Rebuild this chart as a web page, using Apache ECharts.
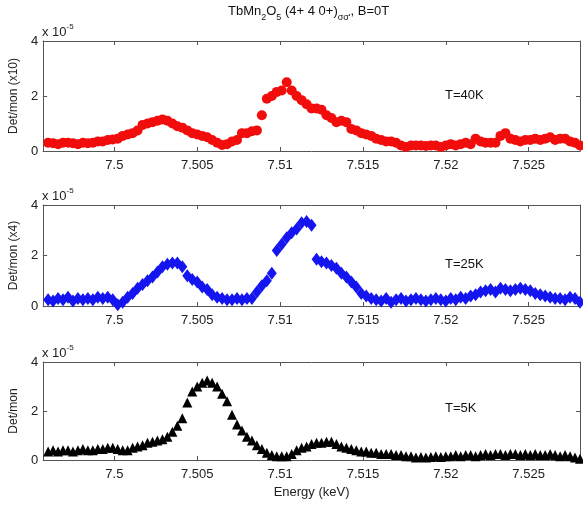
<!DOCTYPE html>
<html>
<head>
<meta charset="utf-8">
<script src="https://cdn.jsdelivr.net/npm/echarts@6/dist/echarts.min.js"></script>
<style>
html, body { margin: 0; background: #fff; }
#container { width: 583px; height: 508px; }
</style>
</head>
<body>
<div id="container"></div>
<script>
let chart = echarts.init(document.getElementById('container'));

// energy scan (keV)
var energy = [
    7.4960, 7.4963, 7.4966, 7.4969, 7.4972, 7.4975, 7.4978, 7.4981, 7.4984, 7.4987,
    7.4990, 7.4993, 7.4996, 7.4999, 7.5002, 7.5005, 7.5008, 7.5011, 7.5014, 7.5017,
    7.5020, 7.5023, 7.5026, 7.5029, 7.5032, 7.5035, 7.5038, 7.5041, 7.5044, 7.5047,
    7.5050, 7.5053, 7.5056, 7.5059, 7.5062, 7.5065, 7.5068, 7.5071, 7.5074, 7.5077,
    7.5080, 7.5083, 7.5086, 7.5089, 7.5092, 7.5095, 7.5098, 7.5101, 7.5104, 7.5107,
    7.5110, 7.5113, 7.5116, 7.5119, 7.5122, 7.5125, 7.5128, 7.5131, 7.5134, 7.5137,
    7.5140, 7.5143, 7.5146, 7.5149, 7.5152, 7.5155, 7.5158, 7.5161, 7.5164, 7.5167,
    7.5170, 7.5173, 7.5176, 7.5179, 7.5182, 7.5185, 7.5188, 7.5191, 7.5194, 7.5197,
    7.5200, 7.5203, 7.5206, 7.5209, 7.5212, 7.5215, 7.5218, 7.5221, 7.5224, 7.5227,
    7.5230, 7.5233, 7.5236, 7.5239, 7.5242, 7.5245, 7.5248, 7.5251, 7.5254, 7.5257,
    7.5260, 7.5263, 7.5266, 7.5269, 7.5272, 7.5275, 7.5278, 7.5281
];

// Det/mon in units of 1e-5 (already scaled x10 / x4 as plotted)
var t40K = [
    0.3, 0.28, 0.25, 0.3, 0.3, 0.28, 0.25, 0.3, 0.28, 0.3,
    0.35, 0.35, 0.4, 0.42, 0.45, 0.55, 0.6, 0.65, 0.75, 0.95,
    1.0, 1.05, 1.1, 1.15, 1.1, 1.0, 0.9, 0.85, 0.75, 0.65,
    0.6, 0.55, 0.5, 0.4, 0.3, 0.22, 0.25, 0.35, 0.4, 0.65,
    0.65, 0.72, 0.75, 1.3, 1.9, 2.0, 2.15, 2.2, 2.5, 2.2,
    2.0, 1.85, 1.7, 1.55, 1.55, 1.5, 1.3, 1.2, 1.05, 1.1,
    1.05, 0.8, 0.75, 0.65, 0.6, 0.55, 0.45, 0.4, 0.35, 0.35,
    0.3, 0.2, 0.15, 0.2, 0.2, 0.2, 0.18, 0.2, 0.2, 0.15,
    0.2, 0.25, 0.2, 0.25, 0.3, 0.25, 0.45, 0.35, 0.3, 0.3,
    0.3, 0.55, 0.65, 0.45, 0.4, 0.35, 0.4, 0.4, 0.45, 0.4,
    0.45, 0.5, 0.4, 0.45, 0.45, 0.35, 0.3, 0.2
];
var t25K = [
    0.25, 0.2, 0.3, 0.25, 0.35, 0.2, 0.3, 0.25, 0.3, 0.25,
    0.35, 0.3, 0.35, 0.25, 0.05, 0.15, 0.35, 0.5, 0.7, 0.85,
    1.0, 1.15, 1.35, 1.55, 1.65, 1.7, 1.7, 1.55, 1.2, 1.05,
    0.95, 0.75, 0.65, 0.45, 0.35, 0.3, 0.25, 0.25, 0.3, 0.25,
    0.3, 0.3, 0.55, 0.8, 1.0, 1.3, 2.2, 2.45, 2.7, 2.9,
    3.05, 3.3, 3.35, 3.2, 1.85, 1.75, 1.7, 1.6, 1.5, 1.3,
    1.15, 0.95, 0.75, 0.5, 0.4, 0.3, 0.25, 0.2, 0.3, 0.15,
    0.25, 0.3, 0.2, 0.25, 0.3, 0.25, 0.2, 0.25, 0.3, 0.25,
    0.2, 0.3, 0.25, 0.35, 0.3, 0.4, 0.45, 0.55, 0.6, 0.65,
    0.55, 0.7, 0.65, 0.6, 0.65, 0.7, 0.65, 0.6, 0.5, 0.45,
    0.4, 0.35, 0.3, 0.3, 0.25, 0.35, 0.3, 0.15
];
var t5K = [
    0.35, 0.4, 0.35, 0.4, 0.4, 0.35, 0.4, 0.45, 0.4, 0.4,
    0.45, 0.45, 0.5, 0.5, 0.45, 0.4, 0.4, 0.5, 0.55, 0.6,
    0.7, 0.75, 0.8, 0.85, 0.95, 1.15, 1.4, 1.7, 2.35, 2.8,
    3.0, 3.15, 3.25, 3.15, 3.0, 2.7, 2.4, 1.85, 1.45, 1.2,
    0.95, 0.8, 0.6, 0.45, 0.3, 0.2, 0.15, 0.15, 0.15, 0.25,
    0.4, 0.5, 0.55, 0.65, 0.7, 0.7, 0.75, 0.75, 0.65, 0.55,
    0.5, 0.45, 0.4, 0.35, 0.35, 0.3, 0.3, 0.25, 0.25, 0.25,
    0.2, 0.2, 0.15, 0.15, 0.1, 0.12, 0.1, 0.12, 0.15, 0.12,
    0.15, 0.15, 0.2, 0.15, 0.2, 0.2, 0.15, 0.2, 0.25, 0.2,
    0.25, 0.25, 0.2, 0.25, 0.25, 0.2, 0.25, 0.2, 0.25, 0.2,
    0.2, 0.25, 0.2, 0.15, 0.2, 0.15, 0.1, 0.05
];

var xTicks = [7.5, 7.505, 7.51, 7.515, 7.52, 7.525];
var yTicks = [0, 2, 4];

var panels = [
    {data: t40K, label: 'T=40K', ylabel: 'Det/mon (x10)', symbol: 'circle', size: 10, color: '#f20d0d', top: 41, height: 110, labelY: 97},
    {data: t25K, label: 'T=25K', ylabel: 'Det/mon (x4)', symbol: 'diamond', size: [10, 13], color: '#1515f0', top: 205, height: 101, labelY: 266},
    {data: t5K, label: 'T=5K', ylabel: 'Det/mon', symbol: 'triangle', size: 10, color: '#000000', top: 362, height: 98, labelY: 410}
];

var font = 'Liberation Sans, Arial, sans-serif';
var axisColor = '#555';

var option = {
    animation: false,
    grid: [],
    xAxis: [],
    yAxis: [],
    series: [],
    graphic: []
};

panels.forEach(function(p, i) {
    option.grid.push({left: 41, right: 3, top: p.top, height: p.height});
    var xbase = {
        gridIndex: i, type: 'value', min: 7.4957, max: 7.5281,
        axisLine: {show: true, onZero: false, lineStyle: {color: axisColor}},
        axisTick: {show: true, inside: true, length: 4, customValues: xTicks, lineStyle: {color: axisColor}},
        splitLine: {show: false}
    };
    option.xAxis.push(Object.assign({}, xbase, {
        position: 'bottom',
        axisLabel: {
            customValues: xTicks, color: '#222', fontFamily: font, fontSize: 13, margin: 8,
            formatter: function(v) { return String(+v.toFixed(3)); }
        },
        name: i == 2 ? 'Energy (keV)' : '',
        nameLocation: 'middle', nameGap: 26,
        nameTextStyle: {color: '#222', fontFamily: font, fontSize: 13}
    }));
    option.xAxis.push(Object.assign({}, xbase, {position: 'top', axisLabel: {show: false}}));
    var ybase = {
        gridIndex: i, type: 'value', min: 0, max: 4, interval: 2,
        axisLine: {show: true, lineStyle: {color: axisColor}},
        axisTick: {show: true, inside: true, length: 4, lineStyle: {color: axisColor}},
        splitLine: {show: false}
    };
    option.yAxis.push(Object.assign({}, ybase, {
        position: 'left',
        axisLabel: {color: '#222', fontFamily: font, fontSize: 13, margin: 5},
        name: p.ylabel, nameLocation: 'middle', nameGap: 19,
        nameTextStyle: {color: '#222', fontFamily: font, fontSize: 12}
    }));
    option.yAxis.push(Object.assign({}, ybase, {position: 'right', axisLabel: {show: false}}));

    var pts = [];
    for (var k = 0; k < energy.length; k++) {
        pts.push([energy[k], p.data[k]]);
    }
    option.series.push({
        type: 'scatter', xAxisIndex: 2 * i, yAxisIndex: 2 * i,
        symbol: p.symbol, symbolSize: p.size,
        itemStyle: {color: p.color, opacity: 1},
        data: pts
    });

    // x 10^-5 multiplier above each axes
    option.graphic.push({
        type: 'text', left: 42, top: p.top - 18,
        style: {
            text: 'x 10{sup|-5}', fill: '#222', font: '13px ' + font,
            rich: {sup: {fontSize: 8, fontFamily: font, fill: '#222', verticalAlign: 'top', lineHeight: 18}}
        }
    });
    option.graphic.push({
        type: 'text', left: 445, top: p.labelY - 8,
        style: {text: p.label, fill: '#111', font: '13px ' + font}
    });
});

option.graphic.push({
    type: 'text', left: 228, top: 5,
    style: {
        text: 'TbMn{sub|2}O{sub|5} (4+ 4 0+){sub|\u03c3\u03c3\'}, B=0T',
        fill: '#111', font: '13px ' + font,
        rich: {sub: {fontSize: 9, fontFamily: font, fill: '#111', verticalAlign: 'bottom', lineHeight: 22}}
    }
});

chart.setOption(option);
</script>
</body>
</html>
